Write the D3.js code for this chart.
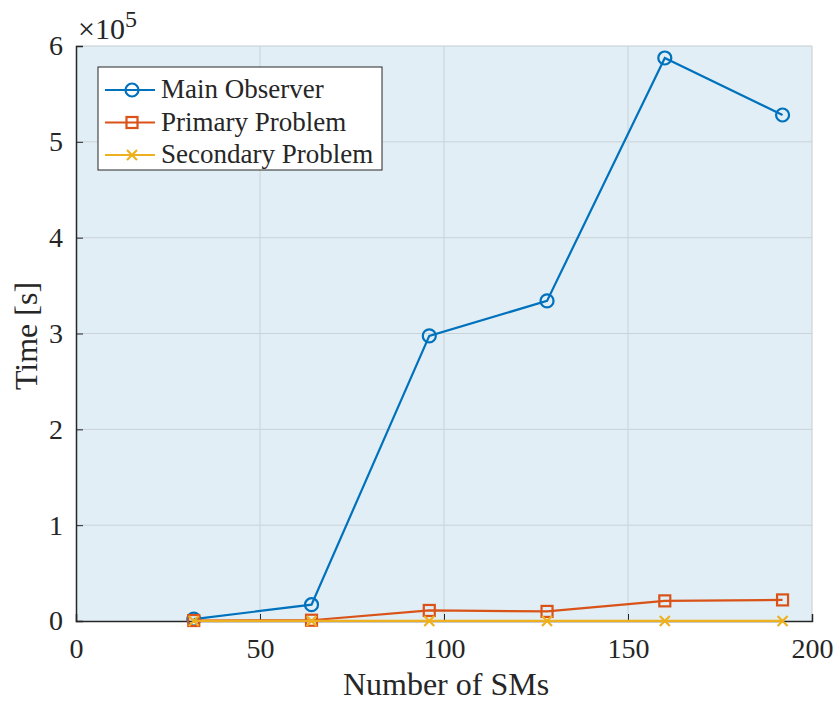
<!DOCTYPE html>
<meta charset="utf-8">
<style>
  body { margin: 0; background: #fff; }
  svg text { font-family: "Liberation Serif", serif; fill: #262626; }
  .tick text { font-size: 28px; }
</style>
<body>
<svg width="837" height="702"></svg>
<script src="https://d3js.org/d3.v7.min.js"></script>
<script>
// data
var sms = [32, 64, 96, 128, 160, 192];
var mainObserver = [2000, 17000, 297500, 334000, 587500, 528000];
var primaryProblem = [500, 800, 11000, 10000, 21000, 22000];
var secondaryProblem = [50, 60, 80, 80, 90, 100];
var seriesNames = ["Main Observer", "Primary Problem", "Secondary Problem"];
var colors = ["#0072BD", "#D95319", "#EDB120"];
var xTicks = [0, 50, 100, 150, 200];
var yTicks = [0, 1, 2, 3, 4, 5, 6];

var plotL = 76, plotR = 812, plotT = 46, plotB = 621;
var svg = d3.select("svg");

var x = d3.scaleLinear().domain([0, 200]).range([plotL, plotR]);
var y = d3.scaleLinear().domain([0, 6e5]).range([plotB, plotT]);

/* background */
svg.append("rect")
  .attr("x", plotL).attr("y", plotT)
  .attr("width", plotR - plotL).attr("height", plotB - plotT)
  .attr("fill", "#e1eef5");

/* grid */
svg.append("g").selectAll("line").data(xTicks.slice(1, -1)).enter().append("line")
  .attr("x1", function(d) { return x(d); }).attr("x2", function(d) { return x(d); })
  .attr("y1", plotT).attr("y2", plotB)
  .attr("stroke", "#c9d2d8").attr("stroke-width", 1);
svg.append("g").selectAll("line").data(yTicks.slice(1, -1)).enter().append("line")
  .attr("y1", function(d) { return y(d * 1e5); }).attr("y2", function(d) { return y(d * 1e5); })
  .attr("x1", plotL).attr("x2", plotR)
  .attr("stroke", "#c9d2d8").attr("stroke-width", 1);

/* light box top/right */
svg.append("path")
  .attr("d", "M" + plotL + "," + plotT + "H" + plotR + "V" + plotB)
  .attr("fill", "none").attr("stroke", "#c4ccd2").attr("stroke-width", 1);

/* axes */
var xAxis = svg.append("g")
  .attr("transform", "translate(0," + plotB + ")")
  .call(d3.axisBottom(x).tickValues(xTicks).tickSize(-7).tickPadding(16).tickFormat(d3.format("d")));
var yAxis = svg.append("g")
  .attr("transform", "translate(" + plotL + ",0)")
  .call(d3.axisLeft(y).tickValues(yTicks.map(function(d) { return d * 1e5; })).tickSize(-7).tickPadding(13)
    .tickFormat(function(d) { return d / 1e5; }));
[xAxis, yAxis].forEach(function(a) {
  a.attr("font-family", "Liberation Serif, serif").attr("font-size", null);
  a.select(".domain").attr("stroke", "#262626").attr("stroke-width", 1.5);
  a.selectAll(".tick line").attr("stroke", "#262626");
  a.selectAll(".tick text").attr("fill", "#262626");
});
xAxis.selectAll(".tick text").attr("dy", "0.75em");

/* exponent */
var ex = svg.append("text").attr("x", 78).attr("y", 39).style("font-size", "30px");
ex.append("tspan").text("\u00d710");
ex.append("tspan").attr("dy", -12).style("font-size", "24px").text("5");

/* labels */
svg.append("text").attr("x", 446).attr("y", 695)
  .attr("text-anchor", "middle").style("font-size", "32px").text("Number of SMs");
svg.append("text").attr("transform", "translate(37,336) rotate(-90)")
  .attr("text-anchor", "middle").style("font-size", "32px").text("Time [s]");

/* series */
var allSeries = [mainObserver, primaryProblem, secondaryProblem];
var line = d3.line().x(function(d, i) { return x(sms[i]); }).y(function(d) { return y(d); });

function marker(g, k, cx, cy) {
  if (k === 0) {
    g.append("circle").attr("cx", cx).attr("cy", cy).attr("r", 6.5)
      .attr("fill", "none").attr("stroke", colors[0]).attr("stroke-width", 2.2);
  } else if (k === 1) {
    g.append("rect").attr("x", cx - 5.5).attr("y", cy - 5.5).attr("width", 11).attr("height", 11)
      .attr("fill", "none").attr("stroke", colors[1]).attr("stroke-width", 2.2);
  } else {
    g.append("path").attr("d", "M" + (cx - 5) + "," + (cy - 5) + "L" + (cx + 5) + "," + (cy + 5) +
      "M" + (cx - 5) + "," + (cy + 5) + "L" + (cx + 5) + "," + (cy - 5))
      .attr("stroke", colors[2]).attr("stroke-width", 2.2);
  }
}

allSeries.forEach(function(vals, k) {
  var g = svg.append("g");
  g.append("path").datum(vals).attr("d", line)
    .attr("fill", "none").attr("stroke", colors[k]).attr("stroke-width", 2.2);
  vals.forEach(function(v, i) { marker(g, k, x(sms[i]), y(v)); });
});

/* legend */
var lg = svg.append("g");
lg.append("rect").attr("x", 98).attr("y", 67).attr("width", 284).attr("height", 103)
  .attr("fill", "#fff").attr("stroke", "#262626").attr("stroke-width", 1);
seriesNames.forEach(function(name, k) {
  var ly = 90 + k * 32.5;
  lg.append("line").attr("x1", 105).attr("x2", 155).attr("y1", ly).attr("y2", ly)
    .attr("stroke", colors[k]).attr("stroke-width", 2.2);
  marker(lg, k, 132, ly);
  lg.append("text").attr("x", 161).attr("y", ly + 8).style("font-size", "27px").text(name);
});
</script>
</body>
